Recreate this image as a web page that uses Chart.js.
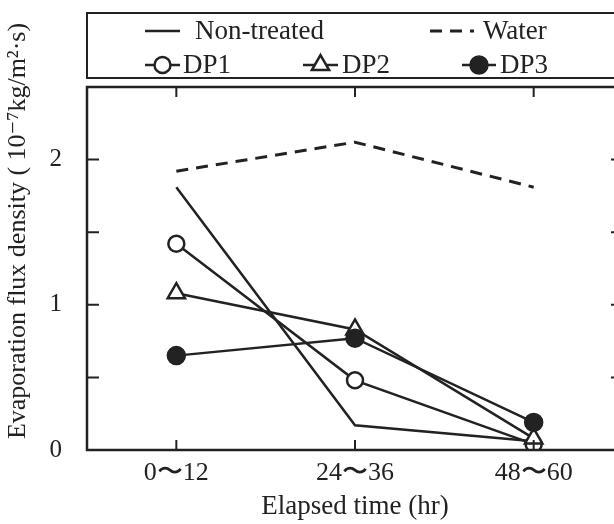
<!DOCTYPE html>
<html>
<head>
<meta charset="utf-8">
<script src="https://cdn.jsdelivr.net/npm/chart.js@4.4.1/dist/chart.umd.min.js"></script>
<style>
    html, body { margin: 0; padding: 0; background: #fff; overflow: hidden; }
    #wrap { width: 640px; height: 524px; }
</style>
</head>
<body>
<div id="wrap"><canvas id="fluxChart" width="640" height="524"></canvas></div>
<script>
// elapsed time categories
const periods = ['0〜12', '24〜36', '48〜60'];
// evaporation flux density
const nonTreated = [1.81, 0.17, 0.06];
const water = [1.92, 2.12, 1.81];
const dp1 = [1.42, 0.48, 0.04];
const dp2 = [1.08, 0.83, 0.08];
const dp3 = [0.65, 0.77, 0.19];
const yTickLabels = [0, 1, 2];

const ink = '#222';
const serif = "'Liberation Serif', 'DejaVu Serif', serif";

// frame, inward ticks, boxed legend and the y title
const framePlugin = {
    id: 'framePlugin',
    afterDraw(chart) {
        const ctx = chart.ctx;
        const a = chart.chartArea;
        const xs = chart.scales.x, ys = chart.scales.y;
        ctx.save();
        ctx.strokeStyle = ink;
        ctx.lineWidth = 2.5;
        ctx.strokeRect(a.left, a.top, a.right - a.left, a.bottom - a.top);

        ctx.lineWidth = 2;
        ctx.beginPath();
        xs.ticks.forEach((t, i) => {
            let px = xs.getPixelForTick(i);
            ctx.moveTo(px, a.bottom); ctx.lineTo(px, a.bottom - 10);
            ctx.moveTo(px, a.top); ctx.lineTo(px, a.top + 10);
        });
        ys.ticks.forEach(t => {
            if (t.value <= 0 || t.value >= 2.5) return;
            let py = ys.getPixelForValue(t.value);
            ctx.moveTo(a.left, py); ctx.lineTo(a.left + 12, py);
            ctx.moveTo(a.right, py); ctx.lineTo(a.right - 12, py);
        });
        ctx.stroke();

        // legend box
        ctx.lineWidth = 2;
        ctx.strokeRect(87, 13, 600, 65);
        ctx.font = '27px ' + serif;
        ctx.textBaseline = 'middle';
        ctx.textAlign = 'left';
        const entries = [
            { ds: 0, x0: 145, x1: 180, y: 31, tx: 195 },
            { ds: 1, x0: 430, x1: 474, y: 31, tx: 483 },
            { ds: 2, x0: 145, x1: 180, y: 65, tx: 183 },
            { ds: 3, x0: 303, x1: 338, y: 65, tx: 342 },
            { ds: 4, x0: 462, x1: 496, y: 65, tx: 500 }
        ];
        entries.forEach(e => {
            const ds = chart.data.datasets[e.ds];
            ctx.save();
            ctx.strokeStyle = ink;
            ctx.lineWidth = ds.borderWidth;
            ctx.setLineDash(ds.borderDash || []);
            ctx.beginPath();
            ctx.moveTo(e.x0, e.y); ctx.lineTo(e.x1, e.y);
            ctx.stroke();
            ctx.setLineDash([]);
            if (ds.pointRadius > 0) {
                ctx.fillStyle = ds.pointBackgroundColor;
                ctx.strokeStyle = ds.pointBorderColor;
                ctx.lineWidth = ds.pointBorderWidth;
                Chart.helpers.drawPoint(ctx, {
                    pointStyle: ds.pointStyle, rotation: 0,
                    radius: ds.pointRadius, borderWidth: ds.pointBorderWidth
                }, (e.x0 + e.x1) / 2, e.y);
            }
            ctx.restore();
            ctx.fillStyle = ink;
            ctx.fillText(ds.label, e.tx, e.y + 1);
        });

        // y axis title
        ctx.save();
        ctx.translate(18, 231);
        ctx.rotate(-Math.PI / 2);
        ctx.textAlign = 'center';
        ctx.fillStyle = ink;
        ctx.font = '26px ' + serif;
        ctx.fillText('Evaporation flux density ( 10⁻⁷kg/m²·s)', 0, 0);
        ctx.restore();

        ctx.restore();
    }
};

let fluxChart = document.getElementById('fluxChart');

new Chart(fluxChart, {
    type: 'line',
    data: {
        labels: periods,
        datasets: [
            {
                label: 'Non-treated',
                data: nonTreated,
                order: 4,
                borderColor: ink,
                borderWidth: 2.5,
                pointRadius: 0
            },
            {
                label: 'Water',
                data: water,
                order: 3,
                borderColor: ink,
                borderWidth: 3,
                borderDash: [12, 8],
                pointRadius: 0
            },
            {
                label: 'DP1',
                data: dp1,
                order: 2,
                borderColor: ink,
                borderWidth: 2.5,
                pointStyle: 'circle',
                pointRadius: 8,
                pointBorderWidth: 2.5,
                pointBackgroundColor: '#fff',
                pointBorderColor: ink
            },
            {
                label: 'DP2',
                data: dp2,
                order: 1,
                borderColor: ink,
                borderWidth: 2.5,
                pointStyle: 'triangle',
                pointRadius: 10,
                pointBorderWidth: 2.5,
                pointBackgroundColor: '#fff',
                pointBorderColor: ink
            },
            {
                label: 'DP3',
                data: dp3,
                order: 0,
                borderColor: ink,
                borderWidth: 2.5,
                pointStyle: 'circle',
                pointRadius: 9,
                pointBorderWidth: 1.5,
                pointBackgroundColor: ink,
                pointBorderColor: ink
            }
        ]
    },
    options: {
        responsive: false,
        animation: false,
        layout: { padding: { top: 87, right: 17, left: 0, bottom: 0 } },
        plugins: {
            legend: { display: false },
            tooltip: { enabled: false }
        },
        scales: {
            x: {
                offset: true,
                grid: { display: false, drawTicks: false },
                border: { display: false },
                ticks: { color: ink, font: { family: serif, size: 26 }, padding: 8 },
                title: {
                    display: true,
                    text: 'Elapsed time (hr)',
                    color: ink,
                    font: { family: serif, size: 27 },
                    padding: { top: 0, bottom: 1 }
                },
                afterFit(axis) { axis.height = 74; }
            },
            y: {
                min: 0,
                max: 2.5,
                grid: { display: false, drawTicks: false },
                border: { display: false },
                ticks: {
                    stepSize: 0.5,
                    color: ink,
                    font: { family: serif, size: 25 },
                    padding: 25,
                    callback: v => yTickLabels.includes(v) ? v : ''
                },
                afterFit(axis) { axis.width = 87; }
            }
        }
    },
    plugins: [framePlugin]
});
</script>
</body>
</html>
